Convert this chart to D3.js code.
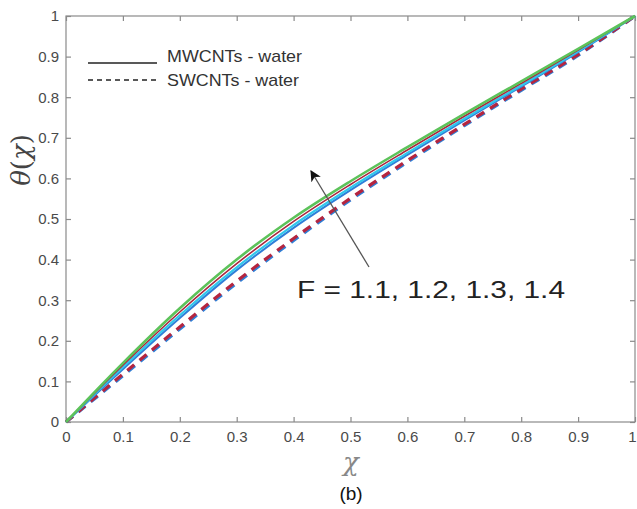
<!DOCTYPE html>
<html>
<head>
<meta charset="utf-8">
<script src="https://cdn.jsdelivr.net/npm/d3@7"></script>
<style>
  html, body { margin: 0; padding: 0; background: #fff; }
  svg { display: block; font-family: "Liberation Sans", Arial, sans-serif; }
</style>
</head>
<body>
<svg id="chart" width="637" height="509"></svg>
<script>
// Dimensionless coordinate χ
const chi = [0, 0.1, 0.2, 0.3, 0.4, 0.5, 0.6, 0.7, 0.8, 0.9, 1.0];

// θ(χ) profiles, MWCNTs - water (solid)
const mwGreen = [0, 0.145, 0.280, 0.400, 0.503, 0.593, 0.677, 0.759, 0.839, 0.919, 1.0];
const mwRed   = [0, 0.140, 0.271, 0.390, 0.494, 0.585, 0.670, 0.753, 0.834, 0.916, 1.0];
const mwCyan  = [0, 0.135, 0.263, 0.381, 0.485, 0.577, 0.663, 0.747, 0.829, 0.913, 1.0];
const mwBlue  = [0, 0.130, 0.256, 0.374, 0.478, 0.571, 0.658, 0.743, 0.826, 0.911, 1.0];

// θ(χ) profiles, SWCNTs - water (dashed)
const swRed   = [0, 0.118, 0.234, 0.347, 0.452, 0.551, 0.644, 0.733, 0.820, 0.905, 1.0];
const swBlue  = [0, 0.114, 0.229, 0.342, 0.447, 0.547, 0.640, 0.730, 0.817, 0.903, 1.0];

const xTicks = [0, 0.1, 0.2, 0.3, 0.4, 0.5, 0.6, 0.7, 0.8, 0.9, 1];
const yTicks = [0, 0.1, 0.2, 0.3, 0.4, 0.5, 0.6, 0.7, 0.8, 0.9, 1];
const legendLabels = ["MWCNTs - water", "SWCNTs - water"];
const annotation = "F = 1.1, 1.2, 1.3, 1.4";

const svg = d3.select("#chart");
const mLeft = 66, mRight = 635, mTop = 16, mBottom = 422;

const x = d3.scaleLinear().domain([0, 1]).range([mLeft, mRight]);
const y = d3.scaleLinear().domain([0, 1]).range([mBottom, mTop]);

const axisColor = "#8a8a8a";
const tickText = "#4a4a4a";

// Plot frame
svg.append("rect")
  .attr("x", mLeft).attr("y", mTop)
  .attr("width", mRight - mLeft).attr("height", mBottom - mTop)
  .attr("fill", "none").attr("stroke", axisColor).attr("stroke-width", 1.2);

const fmt = d => d === 0 || d === 1 ? String(d) : d3.format(".1f")(d);

function styleAxis(g, hideLabels) {
  g.select(".domain").remove();
  g.selectAll(".tick line").attr("stroke", axisColor).attr("stroke-width", 1.2);
  g.selectAll(".tick text")
    .attr("fill", tickText)
    .style("font-size", "15px")
    .style("font-family", "Liberation Sans, Arial, sans-serif");
  if (hideLabels) g.selectAll(".tick text").remove();
}

// Bottom & top axes (ticks pointing inward)
svg.append("g").attr("transform", `translate(0,${mBottom})`)
  .call(d3.axisBottom(x).tickValues(xTicks).tickFormat(fmt).tickSizeInner(-5).tickSizeOuter(0).tickPadding(9))
  .call(g => styleAxis(g, false))
  .call(g => g.selectAll(".tick text").filter(d => d === 1).attr("dx", -3));
svg.append("g").attr("transform", `translate(0,${mTop})`)
  .call(d3.axisTop(x).tickValues(xTicks).tickSizeInner(-5).tickSizeOuter(0))
  .call(g => styleAxis(g, true));

// Left & right axes
svg.append("g").attr("transform", `translate(${mLeft},0)`)
  .call(d3.axisLeft(y).tickValues(yTicks).tickFormat(fmt).tickSizeInner(-5).tickSizeOuter(0).tickPadding(7))
  .call(g => styleAxis(g, false));
svg.append("g").attr("transform", `translate(${mRight},0)`)
  .call(d3.axisRight(y).tickValues(yTicks).tickSizeInner(-5).tickSizeOuter(0))
  .call(g => styleAxis(g, true));

const line = d3.line()
  .x((d, i) => x(chi[i]))
  .y(d => y(d))
  .curve(d3.curveMonotoneX);

const plot = svg.append("g");

// Dashed (SWCNTs) profiles
[[swBlue, "#2e7fd6"], [swRed, "#b5253f"]].forEach(([vals, col]) => {
  plot.append("path").datum(vals)
    .attr("d", line)
    .attr("fill", "none")
    .attr("stroke", col)
    .attr("stroke-width", 3.2)
    .attr("stroke-dasharray", "9,7");
});

// Solid (MWCNTs) profiles
[[mwBlue, "#2f7fd8", 2], [mwCyan, "#31c6ec", 2.2], [mwRed, "#a8283e", 1.6], [mwGreen, "#5cc35a", 2.6]].forEach(([vals, col, w]) => {
  plot.append("path").datum(vals)
    .attr("d", line)
    .attr("fill", "none")
    .attr("stroke", col)
    .attr("stroke-width", w);
});

// Legend
const legend = svg.append("g");
const legendLineY = [63, 80];
const legendTextY = [56, 80];
const legendTextLen = [135, 132];
legendLabels.forEach((lab, i) => {
  legend.append("line")
    .attr("x1", 88).attr("x2", 157).attr("y1", legendLineY[i]).attr("y2", legendLineY[i])
    .attr("stroke", "#222").attr("stroke-width", 1.3)
    .attr("stroke-dasharray", i === 0 ? null : "5,4");
  legend.append("text")
    .attr("x", 167).attr("y", legendTextY[i])
    .attr("dominant-baseline", "central")
    .attr("fill", "#333")
    .attr("textLength", legendTextLen[i])
    .attr("lengthAdjust", "spacingAndGlyphs")
    .style("font-size", "17px")
    .text(lab);
});

// Arrow annotation
svg.append("defs").append("marker")
  .attr("id", "head")
  .attr("viewBox", "0 0 10 10")
  .attr("refX", 9).attr("refY", 5)
  .attr("markerWidth", 11).attr("markerHeight", 11)
  .attr("markerUnits", "userSpaceOnUse")
  .attr("orient", "auto")
  .append("path").attr("d", "M0,0 L10,5 L0,10 L2.5,5 Z").attr("fill", "#111");

svg.append("line")
  .attr("x1", 369).attr("y1", 267)
  .attr("x2", 311).attr("y2", 171)
  .attr("stroke", "#555").attr("stroke-width", 1.3)
  .attr("marker-end", "url(#head)");

svg.append("text")
  .attr("x", 431).attr("y", 298)
  .attr("text-anchor", "middle")
  .attr("fill", "#222")
  .attr("textLength", 268)
  .attr("lengthAdjust", "spacingAndGlyphs")
  .style("font-size", "23px")
  .text(annotation);

// Axis titles
svg.append("text")
  .attr("transform", "translate(30,160) rotate(-90)")
  .attr("text-anchor", "middle")
  .attr("fill", "#444")
  .style("font-family", "DejaVu Serif, serif")
  .style("font-size", "26px")
  .html('<tspan font-style="italic">θ</tspan>(<tspan font-style="italic">χ</tspan>)');

svg.append("text")
  .attr("x", 351).attr("y", 471)
  .attr("text-anchor", "middle")
  .attr("fill", "#888")
  .style("font-family", "DejaVu Serif, serif")
  .style("font-style", "italic")
  .style("font-size", "26px")
  .text("χ");

svg.append("text")
  .attr("x", 351).attr("y", 500)
  .attr("text-anchor", "middle")
  .attr("fill", "#111")
  .style("font-size", "19px")
  .text("(b)");
</script>
</body>
</html>
